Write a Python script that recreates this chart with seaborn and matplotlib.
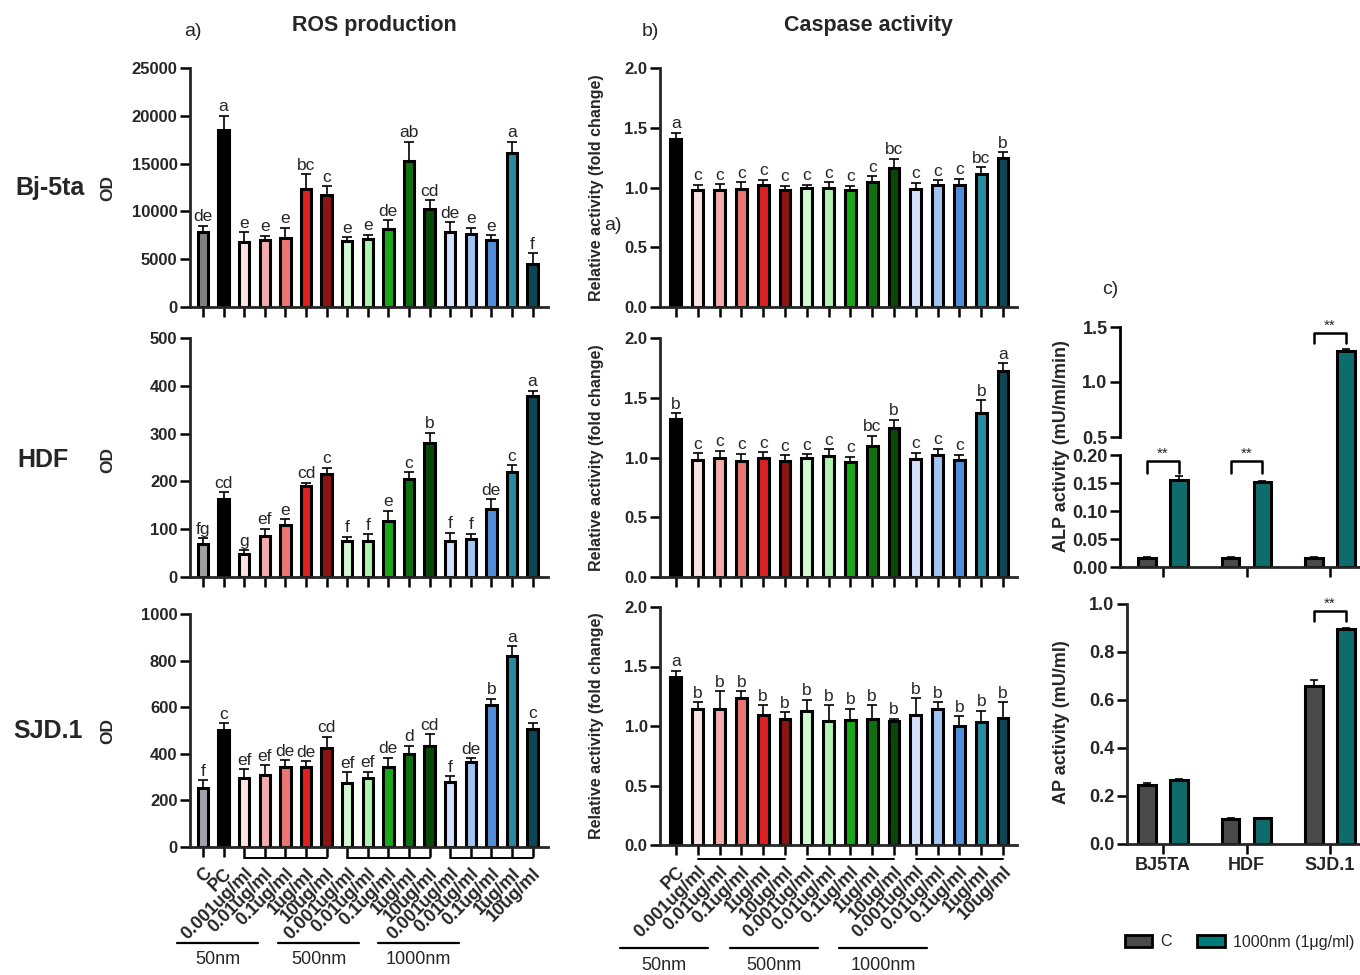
import numpy as np
import pandas as pd
import matplotlib
matplotlib.use("Agg")
import matplotlib.pyplot as plt
from matplotlib.lines import Line2D
from matplotlib.patches import Patch
from matplotlib.ticker import NullLocator
import seaborn as sns

# ---------------- data ----------------
doses = ["0.001ug/ml", "0.01ug/ml", "0.1ug/ml", "1ug/ml", "10ug/ml"]
sizes = ["50nm", "500nm", "1000nm"]
ros_labels = ["C", "PC"] + doses * 3
casp_labels = ["PC"] + doses * 3

reds = ["#ffdede", "#ff9f9f", "#ff6262", "#ff0000", "#a00000"]
greens = ["#ccffcc", "#a2ffa2", "#00c000", "#008000", "#005200"]
blues = ["#cce0ff", "#94c2ff", "#3a8cf0", "#1598b6", "#004e62"]

ros_bj = [7800, 18500, 6800, 7000, 7250, 12300, 11700, 6950, 7150, 8200, 15300, 10250, 7850, 7650, 7050, 16100, 4550]
ros_bj_err = [700, 1500, 1000, 450, 1050, 1600, 950, 350, 420, 850, 2000, 950, 1050, 630, 460, 1200, 1080]
ros_bj_let = ["de", "a", "e", "e", "e", "bc", "c", "e", "e", "de", "ab", "cd", "de", "e", "e", "a", "f"]

ros_hdf = [68, 164, 49, 86, 109, 190, 216, 76, 75, 117, 204, 280, 76, 79, 142, 220, 379]
ros_hdf_err = [13, 14, 7, 15, 12, 7, 13, 8, 14, 22, 15, 22, 17, 12, 21, 14, 11]
ros_hdf_let = ["fg", "cd", "g", "ef", "e", "cd", "c", "f", "f", "e", "c", "b", "f", "f", "de", "c", "a"]

ros_sjd = [255, 504, 298, 309, 345, 345, 426, 276, 296, 345, 399, 434, 280, 366, 610, 818, 508]
ros_sjd_err = [33, 27, 35, 42, 28, 24, 48, 44, 28, 38, 35, 50, 23, 14, 26, 45, 25]
ros_sjd_let = ["f", "c", "ef", "ef", "de", "de", "cd", "ef", "ef", "de", "d", "cd", "f", "de", "b", "a", "c"]

casp_bj = [1.41, 0.98, 0.98, 0.99, 1.02, 0.98, 1.00, 1.00, 0.98, 1.05, 1.16, 0.99, 1.02, 1.02, 1.11, 1.25]
casp_bj_err = [0.05, 0.045, 0.05, 0.053, 0.045, 0.036, 0.022, 0.042, 0.036, 0.047, 0.08, 0.05, 0.04, 0.055, 0.06, 0.048]
casp_bj_let = ["a"] + ["c"] * 9 + ["bc"] + ["c"] * 3 + ["bc", "b"]

casp_hdf = [1.325, 0.98, 1.00, 0.97, 1.00, 0.97, 0.995, 1.015, 0.96, 1.10, 1.245, 0.99, 1.025, 0.975, 1.375, 1.72]
casp_hdf_err = [0.047, 0.056, 0.056, 0.062, 0.045, 0.047, 0.034, 0.053, 0.048, 0.083, 0.072, 0.05, 0.05, 0.05, 0.103, 0.069]
casp_hdf_let = ["b"] + ["c"] * 8 + ["bc", "b"] + ["c"] * 3 + ["b", "a"]

casp_sjd = [1.41, 1.145, 1.145, 1.235, 1.095, 1.06, 1.125, 1.04, 1.05, 1.06, 1.04, 1.09, 1.145, 1.0, 1.035, 1.07]
casp_sjd_err = [0.055, 0.053, 0.15, 0.058, 0.078, 0.055, 0.095, 0.136, 0.095, 0.117, 0.022, 0.145, 0.055, 0.08, 0.095, 0.13]
casp_sjd_let = ["a"] + ["b"] * 15

cells = ["BJ5TA", "HDF", "SJD.1"]
treatments = ["C", "1000nm (1μg/ml)"]
alp_c = [0.016, 0.016, 0.016]
alp_c_err = [0.001, 0.001, 0.001]
alp_t = [0.155, 0.152, 1.285]
alp_t_err = [0.007, 0.002, 0.015]
ap_c = [0.247, 0.105, 0.657]
ap_c_err = [0.008, 0.004, 0.027]
ap_t = [0.265, 0.107, 0.894]
ap_t_err = [0.005, 0.003, 0.006]

# ---------------- style ----------------
sns.set_theme(style="ticks")
plt.rcParams["font.family"] = ["Liberation Sans", "DejaVu Sans"]
plt.rcParams["axes.linewidth"] = 2.0

W, H = 1360, 975
fig = plt.figure(figsize=(W / 100, H / 100), dpi=100)


def add_axes(l, t, r, b):
    return fig.add_axes([l / W, 1 - b / H, (r - l) / W, (b - t) / H])


def ftext(x, y, s, **kw):
    fig.text(x / W, 1 - y / H, s, **kw)


def fline(x0, x1, y, **kw):
    fig.add_artist(Line2D([x0 / W, x1 / W], [1 - y / H, 1 - y / H],
                          transform=fig.transFigure, color="black", lw=1.6, **kw))


def style_ax(ax):
    sns.despine(ax=ax)
    ax.tick_params(axis="both", width=1.8, length=7, labelsize=12, color="black", pad=2)
    for lab in ax.get_yticklabels():
        lab.set_fontweight("bold")
    ax.set_xlabel("")
    ax.set_ylabel("")


def draw_bars(ax, keys, colors, vals, errs, letters):
    df = pd.DataFrame({"key": keys, "val": vals})
    sns.barplot(data=df, x="key", y="val", hue="key", order=keys, hue_order=keys,
                palette=dict(zip(keys, colors)), dodge=False, width=0.5,
                edgecolor="black", linewidth=2.2, errorbar=None, legend=False, ax=ax)
    x = np.arange(len(vals))
    ax.errorbar(x, vals, yerr=[np.zeros(len(vals)), errs], fmt="none", ecolor="black",
                elinewidth=1.2, capsize=3.5, capthick=1.2, zorder=4)
    for i, (v, e, s) in enumerate(zip(vals, errs, letters)):
        ax.annotate(s, (i, v + e), xytext=(0, 1), textcoords="offset points",
                    ha="center", va="bottom", fontsize=12.5)


ros_keys = ["C", "PC"] + [f"{s} {d}" for s in sizes for d in doses]
casp_keys = ["PC"] + [f"{s} {d}" for s in sizes for d in doses]

# ---------------- ROS panels ----------------
ros_sets = [
    (ros_bj, ros_bj_err, ros_bj_let, "#808080", (68, 307), 25000, 5000),
    (ros_hdf, ros_hdf_err, ros_hdf_let, "#a0a0a0", (338, 577), 500, 100),
    (ros_sjd, ros_sjd_err, ros_sjd_let, "#a0a0a8", (614, 847), 1000, 200),
]
for k, (vals, errs, lets, ccol, (t, b), ymax, step) in enumerate(ros_sets):
    ax = add_axes(190, t, 548, b)
    cols = [ccol, "#000000"] + reds + greens + blues
    draw_bars(ax, ros_keys, cols, vals, errs, lets)
    ax.set_ylim(0, ymax)
    ax.set_yticks(np.arange(0, ymax + 1, step))
    ax.set_xlim(-0.63, 16.75)
    style_ax(ax)
    if k == 2:
        ax.set_xticks(range(len(ros_keys)))
        ax.set_xticklabels(ros_labels, rotation=45, ha="right", rotation_mode="anchor",
                           fontweight="bold", fontsize=13)
        ax.tick_params(axis="x", pad=6)
        for a0, a1 in [(2, 6), (7, 11), (12, 16)]:
            ax.plot([a0, a1], [-0.047, -0.047], transform=ax.get_xaxis_transform(),
                    color="black", lw=1.4, clip_on=False)
    else:
        ax.set_xticklabels([])

# ---------------- Caspase panels ----------------
casp_sets = [
    (casp_bj, casp_bj_err, casp_bj_let, (68, 307)),
    (casp_hdf, casp_hdf_err, casp_hdf_let, (338, 577)),
    (casp_sjd, casp_sjd_err, casp_sjd_let, (607, 845)),
]
for k, (vals, errs, lets, (t, b)) in enumerate(casp_sets):
    ax = add_axes(660, t, 1017, b)
    cols = ["#000000"] + reds + greens + blues
    draw_bars(ax, casp_keys, cols, vals, errs, lets)
    ax.set_ylim(0, 2.0)
    ax.set_yticks([0, 0.5, 1.0, 1.5, 2.0])
    ax.set_yticklabels(["0.0", "0.5", "1.0", "1.5", "2.0"])
    ax.set_xlim(-0.73, 15.64)
    style_ax(ax)
    if k == 2:
        ax.set_xticks(range(len(casp_keys)))
        ax.set_xticklabels(casp_labels, rotation=45, ha="right", rotation_mode="anchor",
                           fontweight="bold", fontsize=13)
        ax.tick_params(axis="x", pad=6)
        for a0, a1 in [(1, 5), (6, 10), (11, 15)]:
            ax.plot([a0, a1], [-0.059, -0.059], transform=ax.get_xaxis_transform(),
                    color="black", lw=1.4, clip_on=False)
    else:
        ax.set_xticklabels([])
    ftext(597, (t + b) / 2, "Relative activity (fold change)", rotation=90,
          ha="center", va="center", fontsize=11.5, fontweight="bold")

# ---------------- panel c ----------------
c_cols = ["#4a4a4a", "#007b7b"]


def pair_bars(ax, cvals, cerr, tvals, terr):
    df = pd.DataFrame({"cell": cells * 2,
                       "treat": [treatments[0]] * 3 + [treatments[1]] * 3,
                       "val": list(cvals) + list(tvals)})
    sns.barplot(data=df, x="cell", y="val", hue="treat", order=cells, hue_order=treatments,
                palette=c_cols, width=0.76, gap=0.45, edgecolor="black", linewidth=2.2,
                errorbar=None, legend=False, ax=ax)
    x = np.arange(3)
    for off, v, e in [(-0.19, cvals, cerr), (0.19, tvals, terr)]:
        ax.errorbar(x + off, v, yerr=[np.zeros(3), e], fmt="none", ecolor="black",
                    elinewidth=1.2, capsize=3, capthick=1.2, zorder=4)


def bracket(ax, xc, ytop, ylow):
    ax.plot([xc - 0.19, xc - 0.19, xc + 0.19, xc + 0.19], [ylow, ytop, ytop, ylow],
            color="black", lw=1.8, clip_on=False)
    ax.annotate("**", (xc, ytop), xytext=(0, 0), textcoords="offset points",
                ha="center", va="bottom", fontsize=11)


def fwd(y):
    y = np.asarray(y, dtype=float)
    return np.where(y <= 0.2, y / 0.2 * 112,
                    np.where(y <= 0.5, 112 + (y - 0.2) / 0.3 * 18, 130 + (y - 0.5) * 110))


def inv(t):
    t = np.asarray(t, dtype=float)
    return np.where(t <= 112, t / 112 * 0.2,
                    np.where(t <= 130, 0.2 + (t - 112) / 18 * 0.3, 0.5 + (t - 130) / 110))


ax = add_axes(1120, 327, 1360, 567)
pair_bars(ax, alp_c, alp_c_err, alp_t, alp_t_err)
ax.set_yscale("function", functions=(fwd, inv))
ax.set_ylim(0, 1.5)
ax.set_yticks([0, 0.05, 0.10, 0.15, 0.20, 0.5, 1.0, 1.5])
ax.set_yticklabels(["0.00", "0.05", "0.10", "0.15", "0.20", "0.5", "1.0", "1.5"])
ax.yaxis.set_minor_locator(NullLocator())
ax.set_xlim(-0.515, 2.359)
style_ax(ax)
ax.tick_params(axis="both", labelsize=13)
ax.set_xticklabels([])
ax.spines["left"].set_visible(False)
for y0, y1 in [(0, 0.2), (0.5, 1.5)]:
    ax.plot([0, 0], [y0, y1], transform=ax.get_yaxis_transform(), color="black",
            lw=2.0, clip_on=False, solid_capstyle="projecting")
bracket(ax, 0, 0.190, 0.168)
bracket(ax, 1, 0.190, 0.168)
bracket(ax, 2, 1.445, 1.355)
ftext(1062, 446, "ALP activity (mU/ml/min)", rotation=90, ha="center", va="center",
      fontsize=13, fontweight="bold")

ax = add_axes(1127, 604, 1360, 844)
pair_bars(ax, ap_c, ap_c_err, ap_t, ap_t_err)
ax.set_ylim(0, 1.0)
ax.set_yticks([0, 0.2, 0.4, 0.6, 0.8, 1.0])
ax.set_yticklabels(["0.0", "0.2", "0.4", "0.6", "0.8", "1.0"])
ax.set_xlim(-0.431, 2.359)
style_ax(ax)
ax.tick_params(axis="both", labelsize=13)
ax.set_xticks([0, 1, 2])
ax.set_xticklabels(cells, fontweight="bold", fontsize=13)
bracket(ax, 2, 0.972, 0.93)
ftext(1062, 722, "AP activity (mU/ml)", rotation=90, ha="center", va="center",
      fontsize=13, fontweight="bold")

fig.legend(handles=[Patch(facecolor=c_cols[0], edgecolor="black", linewidth=2),
                    Patch(facecolor=c_cols[1], edgecolor="black", linewidth=2)],
           labels=treatments, loc="center left", bbox_to_anchor=(1122 / W, 1 - 942 / H),
           ncol=2, frameon=False, fontsize=11.5, handlelength=1.7, handleheight=0.7,
           columnspacing=1.6, handletextpad=0.5, borderpad=0.2, borderaxespad=0)

# ---------------- figure texts ----------------
ftext(193, 32, "a)", ha="center", va="center", fontsize=14)
ftext(374, 25, "ROS production", ha="center", va="center", fontsize=15.5, fontweight="bold")
ftext(650, 32, "b)", ha="center", va="center", fontsize=14)
ftext(868, 25, "Caspase activity", ha="center", va="center", fontsize=15.5, fontweight="bold")
ftext(1110, 290, "c)", ha="center", va="center", fontsize=14)
ftext(613, 225, "a)", ha="center", va="center", fontsize=14)

for name, y, x in [("Bj-5ta", 188, 50), ("HDF", 460, 43), ("SJD.1", 731, 48)]:
    ftext(x, y, name, ha="center", va="center", fontsize=18, fontweight="bold")
    ftext(108, y, "OD", rotation=90, ha="center", va="center", fontsize=12.5, fontweight="bold")

for (x0, x1), lab in zip([(177, 258), (278, 359), (378, 459)], sizes):
    fline(x0, x1, 943)
    ftext((x0 + x1) / 2, 960, lab, ha="center", va="center", fontsize=13)
for (x0, x1), lab in zip([(620, 708), (730, 818), (839, 927)], sizes):
    fline(x0, x1, 948)
    ftext((x0 + x1) / 2, 965, lab, ha="center", va="center", fontsize=13)

fig.savefig("out.png", dpi=100)
